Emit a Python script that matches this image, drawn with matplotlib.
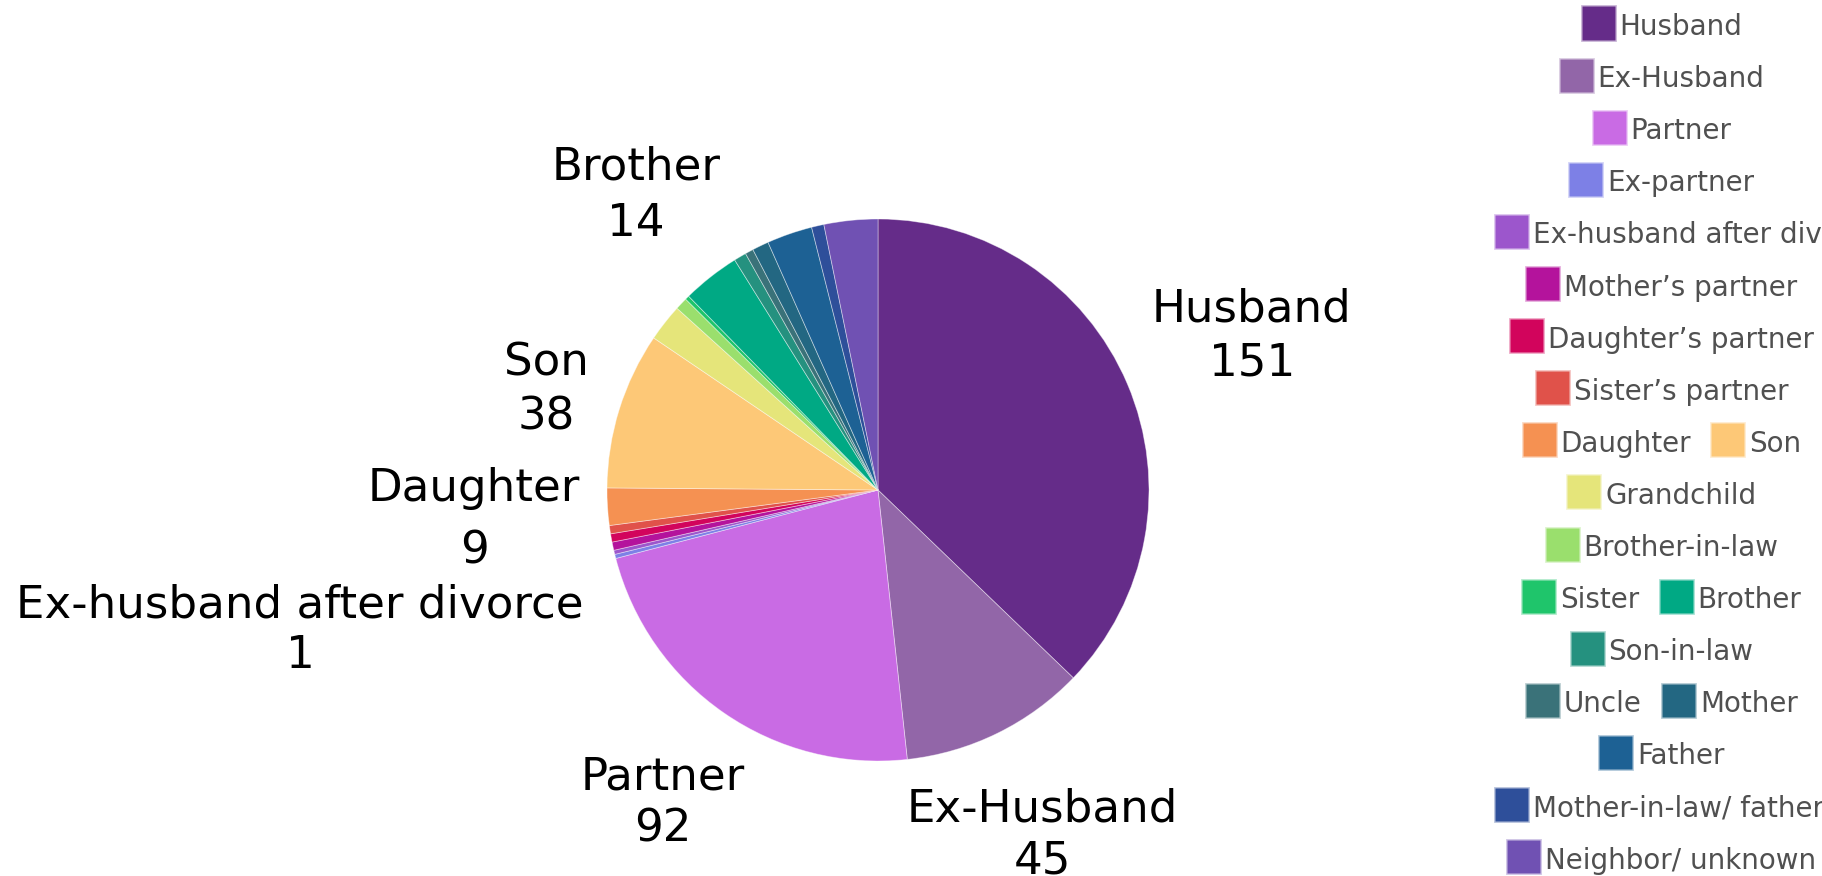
import matplotlib
matplotlib.use("Agg")
import matplotlib.pyplot as plt
from matplotlib.patches import Rectangle

# ---------------- data ----------------
categories = ["Husband", "Ex-Husband", "Partner", "Ex-partner",
              "Ex-husband after divorce", "Mother\u2019s partner",
              "Daughter\u2019s partner", "Sister\u2019s partner", "Daughter",
              "Son", "Grandchild", "Brother-in-law", "Sister", "Brother",
              "Son-in-law", "Uncle", "Mother", "Father",
              "Mother-in-law/ father-in-law", "Neighbor/ unknown"]
values = [151, 45, 92, 1, 1, 2, 2, 2, 9, 38, 9, 3, 1, 14, 3, 2, 4, 11, 3, 13]
colors = ["#652c89", "#9266a8", "#c96be4", "#7d80e6", "#9c56cc", "#b4139c",
          "#d2045c", "#e0524a", "#f59152", "#fdc877", "#e5e57a", "#9adf6d",
          "#1fc56b", "#00a984", "#25917f", "#3a7279", "#236782", "#1d6194",
          "#2e4f9a", "#7051b3"]
labeled = ["Husband", "Ex-Husband", "Partner", "Ex-husband after divorce",
           "Daughter", "Son", "Brother"]

W, H = 1822, 876
fig = plt.figure(figsize=(W / 100, H / 100), dpi=100)
fig.patch.set_facecolor("white")

FONT = "DejaVu Sans"

def fx(x):
    return x / W

def fy(y):
    return 1 - y / H

# ---------------- pie ----------------
cx, cy, r = 878, 490, 271
ax = fig.add_axes([fx(cx - r), fy(cy + r), 2 * r / W, 2 * r / H])
ax.pie(values, colors=colors, startangle=90, counterclock=False, radius=1,
       wedgeprops=dict(edgecolor=(1, 1, 1, 0.45), linewidth=0.6))
ax.set_xlim(-1, 1)
ax.set_ylim(-1, 1)
ax.set_aspect("equal")
ax.axis("off")

# label placement (pixel positions: x-center, name baseline, value baseline)
label_pos = {
    "Husband": (1252, 322, 375),
    "Ex-Husband": (1042, 822, 874),
    "Partner": (663, 789, 842),
    "Ex-husband after divorce": (300, 618, 668),
    "Daughter": (474, 501, 563),
    "Son": (546, 375, 430),
    "Brother": (636, 180, 236),
}
for name in labeled:
    v = values[categories.index(name)]
    x, yb1, yb2 = label_pos[name]
    fig.text(fx(x), fy(yb1), name, ha="center", va="baseline",
             fontsize=32.5, family=FONT, color="black")
    fig.text(fx(x), fy(yb2), str(v), ha="center", va="baseline",
             fontsize=32.5, family=FONT, color="black")

# ---------------- legend ----------------
rows = [["Husband"], ["Ex-Husband"], ["Partner"], ["Ex-partner"],
        ["Ex-husband after divorce"], ["Mother\u2019s partner"],
        ["Daughter\u2019s partner"], ["Sister\u2019s partner"],
        ["Daughter", "Son"], ["Grandchild"], ["Brother-in-law"],
        ["Sister", "Brother"], ["Son-in-law"], ["Uncle", "Mother"],
        ["Father"], ["Mother-in-law/ father-in-law"], ["Neighbor/ unknown"]]

renderer = fig.canvas.get_renderer()
leg_cx, leg_left = 1662, 1495
row_y0, row_dy = 23, 52.1
sq, gap_txt, gap_item = 33, 5, 20
leg_fs = 20

for i, row in enumerate(rows):
    yc = row_y0 + row_dy * i
    texts = []
    widths = []
    for name in row:
        t = fig.text(0, fy(yc), name, ha="left", va="center_baseline",
                     fontsize=leg_fs, family=FONT, color="#505050")
        w = t.get_window_extent(renderer).width
        texts.append(t)
        widths.append(sq + gap_txt + w)
    total = sum(widths) + gap_item * (len(row) - 1)
    x0 = max(leg_left, leg_cx - total / 2)
    for name, t, w in zip(row, texts, widths):
        c = colors[categories.index(name)]
        rect = Rectangle((fx(x0), fy(yc + sq / 2)), sq / W, sq / H,
                         transform=fig.transFigure, facecolor=c,
                         edgecolor=matplotlib.colors.to_rgba(c, 0.35),
                         linewidth=2.0)
        fig.add_artist(rect)
        t.set_x(fx(x0 + sq + gap_txt))
        t.set_y(fy(yc + 1))
        x0 += w + gap_item

fig.savefig("out.png", dpi=100, facecolor="white")
